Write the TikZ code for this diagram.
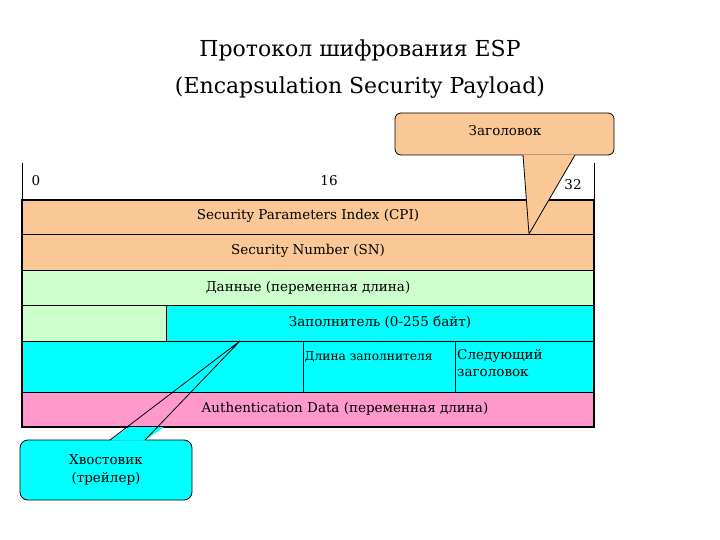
\documentclass[tikz,border=0pt]{standalone}
\usepackage{fontspec}
\setmainfont{DejaVu Serif}
\newfontfamily\tms{DejaVu Serif}
\begin{document}
\begin{tikzpicture}[x=1pt,y=-1pt,
  row/.style={draw=black,line width=0.8pt},
  lbl/.style={font=\tms\fontsize{13.5}{16}\selectfont,inner sep=0pt},
  ttl/.style={font=\tms\fontsize{22}{26}\selectfont,inner sep=0pt}]
\definecolor{org}{HTML}{FAC896}
\definecolor{grn}{HTML}{CCFFCC}
\definecolor{cyn}{HTML}{00FFFF}
\definecolor{pnk}{HTML}{FF99CC}
\useasboundingbox (0,0) rectangle (720,540);
\node[ttl] (t1) at (360,50) {Протокол шифрования ESP};
\node[ttl] (t2) at (360,88) {(Encapsulation Security Payload)};
% top frame
\draw[line width=0.8pt] (22,163) -- (22,200) (594,163) -- (594,200);
\node[lbl] (n0) at (36,181) {0};
\node[lbl] (n16) at (329,181) {16};
\node[lbl] (n32) at (573,185) {32};
% rows
\fill[org] (22,200) rectangle (594,270);
\draw[row] (22,200) rectangle (594,234);
\draw[row] (22,234) rectangle (594,270);
\fill[grn] (22,270) rectangle (594,305);
\draw[row] (22,270) rectangle (594,305);
\fill[grn] (22,305) rectangle (166,341);
\fill[cyn] (166,305) rectangle (594,341);
\draw[row] (22,305) rectangle (594,341);
\draw[row] (166,305) -- (166,341);
\fill[cyn] (22,341) rectangle (594,392);
\draw[row] (22,341) rectangle (594,392);
\draw[row] (303,341) -- (303,392) (455,341) -- (455,392);
\fill[pnk] (22,392) rectangle (594,427);
\draw[row] (22,392) rectangle (594,427);
\draw[line width=1.2pt] (22,200) rectangle (594,427);
\node[lbl] (r1) at (308,216) {Security Parameters Index (CPI)};
\node[lbl] (r2) at (308,251) {Security Number (SN)};
\node[lbl] (r3) at (308,288) {Данные (переменная длина)};
\node[lbl] (r4) at (380,322) {Заполнитель (0-255 байт)};
\node[lbl,anchor=west] (r5) at (304.5,357) {\fontsize{12.2}{15}\selectfont Длина заполнителя};
\node[lbl,anchor=north west,align=left] (r6) at (457,349) {Следующий\\[1pt]заголовок};
\node[lbl] (r7) at (345,409) {Authentication Data (переменная длина)};
% callout top
\node[draw,fill=org,rounded corners=6pt,minimum width=219pt,minimum height=42pt,inner sep=0pt,line width=0.8pt] (ch) at (504.5,134) {};
\node[lbl] (chl) at (505,131) {Заголовок};
\fill[org] (523,154.6) -- (529,234) -- (575,154.6) -- cycle;
\draw[line width=0.8pt] (523,155) -- (529,234) -- (575,155);
% callout bottom
\node[draw,fill=cyn,rounded corners=8pt,minimum width=172pt,minimum height=60pt,inner sep=0pt,line width=0.8pt] (ct) at (106,470) {};
\node[lbl,align=center] (ctl) at (106,470) {Хвостовик\\[2pt](трейлер)};
\fill[cyn] (110,440.5) -- (129,427) -- (164,427) -- (145,440.5) -- cycle;
\draw[line width=0.8pt] (110,440) -- (240,341) -- (145,440);
\end{tikzpicture}
\end{document}
